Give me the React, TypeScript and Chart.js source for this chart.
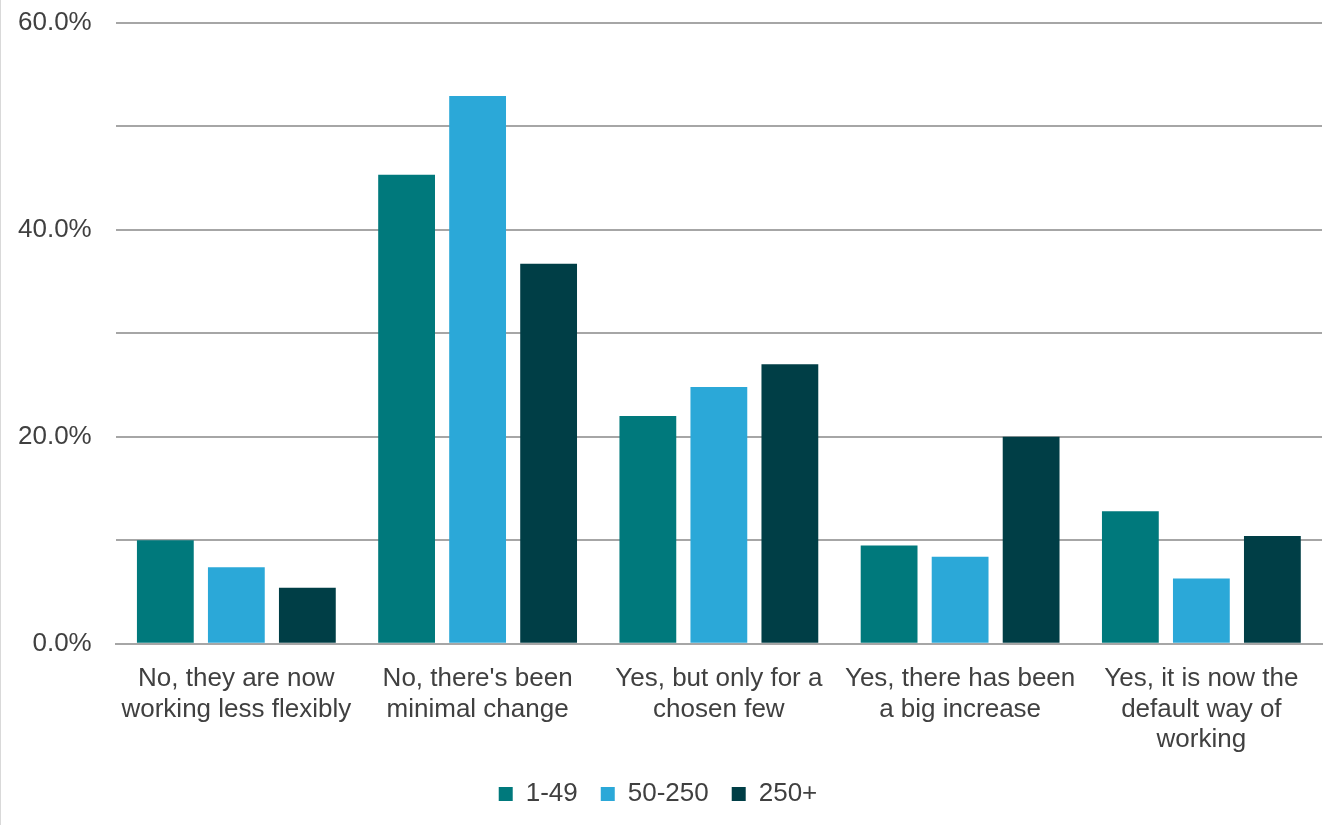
import React, { useEffect, useRef } from "react";
import { Chart, registerables } from "chart.js";

Chart.register(...registerables);

const categories: string[][] = [
  ["No, they are now", "working less flexibly"],
  ["No, there's been", "minimal change"],
  ["Yes, but only for a", "chosen few"],
  ["Yes, there has been", "a big increase"],
  ["Yes, it is now the", "default way of", "working"],
];
const seriesNames = ["1-49", "50-250", "250+"];
const small = [10.0, 45.3, 22.0, 9.5, 12.8];
const medium = [7.4, 52.9, 24.8, 8.4, 6.3];
const large = [5.4, 36.7, 27.0, 20.0, 10.4];
const colors = ["#00797C", "#2BA8D8", "#003E46"];
const yTicks = [0, 20, 40, 60];
const FONT = "Liberation Sans, Arial, sans-serif";

export default function App() {
  const ref = useRef<HTMLCanvasElement>(null);
  useEffect(() => {
    document.body.style.margin = "0";
    const ctx = ref.current!;
    const values = [small, medium, large];
    const chart = new Chart(ctx, {
      type: "bar",
      data: {
        labels: categories,
        datasets: seriesNames.map((n, i) => ({
          label: n,
          data: values[i],
          backgroundColor: colors[i],
          categoryPercentage: 0.883,
          barPercentage: 0.8,
        })),
      },
      options: {
        animation: false,
        responsive: false,
        maintainAspectRatio: false,
        layout: { padding: { top: 0, right: 2, left: -7, bottom: 8 } },
        plugins: {
          tooltip: { enabled: false },
          legend: {
            position: "bottom",
            labels: {
              boxWidth: 14,
              boxHeight: 14,
              padding: 23,
              color: "#404040",
              font: { family: FONT, size: 26 },
            },
          },
        },
        scales: {
          x: {
            grid: { display: false, drawTicks: false },
            border: { color: "#a6a6a6", width: 2 },
            afterFit: (scale: any) => {
              scale.height = scale.height - 17;
            },
            ticks: {
              color: "#404040",
              maxRotation: 0,
              autoSkip: false,
              padding: 20,
              font: { family: FONT, size: 26, lineHeight: 1.17 },
            },
          },
          y: {
            min: 0,
            max: 60,
            border: { display: false },
            grid: { color: "#a6a6a6", lineWidth: 2, drawTicks: false },
            ticks: {
              stepSize: 10,
              padding: 24,
              color: "#404040",
              font: { family: FONT, size: 26 },
              callback: (v: any) => (yTicks.includes(Number(v)) ? Number(v).toFixed(1) + "%" : ""),
            },
          },
        },
      },
    });
    return () => chart.destroy();
  }, []);
  return (
    <div style={{ position: "fixed", left: 0, top: 0, width: 1324, height: 825, background: "#fff", borderLeft: "1px solid #d9d9d9", boxSizing: "border-box", overflow: "hidden" }}>
      <canvas ref={ref} width={1323} height={842} style={{ display: "block", marginTop: -17 }} />
    </div>
  );
}
